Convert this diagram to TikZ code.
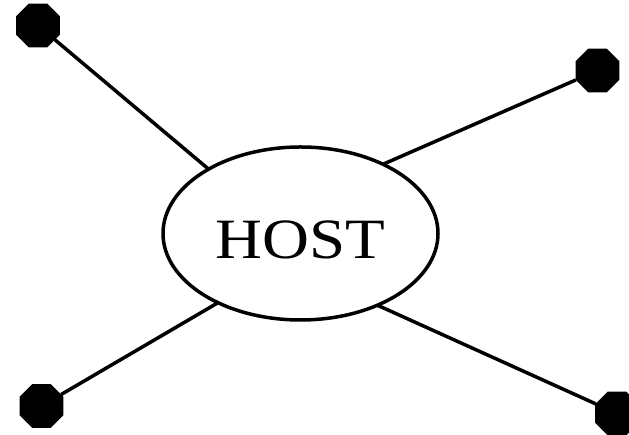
\documentclass[tikz,border=0pt]{standalone}
\usepackage{fontspec}
\setmainfont{Liberation Serif}
\usepackage{tikz}
\usetikzlibrary{shapes.geometric}

\begin{document}
\begin{tikzpicture}[x=1pt,y=1pt,line width=3.5pt,
		host node/.style={ellipse,draw,inner sep=0pt,outer sep=0pt,minimum width=275pt,minimum height=173pt,
			text height=50pt,text depth=0pt,font=\fontsize{57}{60}\selectfont},
		end node/.style={regular polygon,regular polygon sides=8,fill=black,inner sep=0pt,outer sep=0pt,minimum size=47.6pt}]
		
		\useasboundingbox (0,0) rectangle (629,435);
		
		\node[host node] (host) at (300.5,201.5) {\scalebox{1.14}[1]{HOST}};
		\node[end node] (1) at (38,409.5) {};
		\node[end node] (2) at (597.5,364.5) {};
		\node[end node] (3) at (41.5,29) {};
		\node[end node] (4) at (617,21.5) {};
		\path[draw]
		
		(1) edge (host.145)
		(2) edge (host.40.5)
		(3) edge (host.220.5)
		(4) edge (host.317.7);
		
		\end{tikzpicture}
\end{document}
